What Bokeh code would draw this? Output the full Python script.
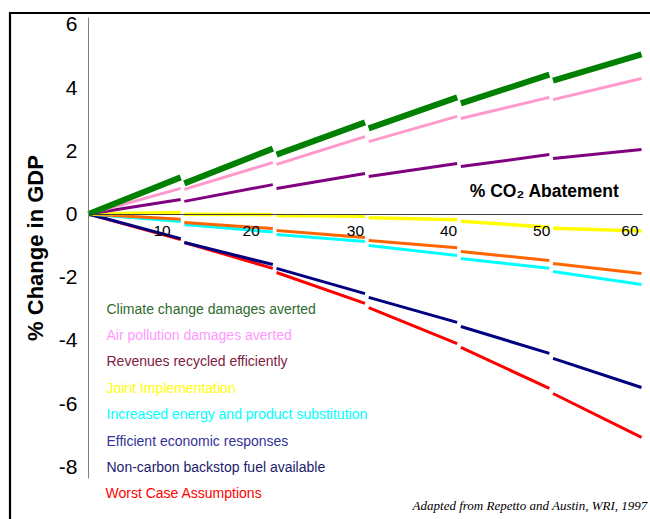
from bokeh.plotting import figure
from bokeh.models import Range1d, FixedTicker, ColumnDataSource
from bokeh.core.properties import value
from bokeh.embed import file_html
from bokeh.resources import INLINE

# ---------------- data ----------------
abatement = [0, 10, 20, 30, 40, 50, 60]          # % CO2 abatement (segment breakpoints)
x_tick_labels = ["10", "20", "30", "40", "50", "60"]
y_ticks = [-8, -6, -4, -2, 0, 2, 4, 6]

series_labels = [
    "Climate change damages averted",
    "Air pollution damages averted",
    "Revenues recycled efficiently",
    "Joint Implementation",
    "Increased energy and product substitution",
    "Efficient economic responses",
    "Non-carbon backstop fuel available",
    "Worst Case Assumptions",
]

# value at the start and at the end of each 10-point segment (% change in GDP)
climate_start = [0, 0.97, 1.88, 2.71, 3.50, 4.22]
climate_end = [1.16, 2.07, 2.90, 3.69, 4.41, 5.05]
airpol_start = [0, 0.78, 1.57, 2.29, 3.02, 3.62]
airpol_end = [0.81, 1.63, 2.45, 3.09, 3.69, 4.29]
revenue_start = [0, 0.40, 0.81, 1.19, 1.50, 1.76]
revenue_end = [0.46, 0.93, 1.28, 1.60, 1.88, 2.04]
joint_start = [0, -0.01, -0.05, -0.12, -0.23, -0.45]
joint_end = [0.05, -0.02, -0.07, -0.18, -0.42, -0.54]
efficient_start = [0, -0.27, -0.52, -0.84, -1.19, -1.57]
efficient_end = [-0.17, -0.46, -0.74, -1.07, -1.47, -1.88]
substitution_start = [0, -0.33, -0.65, -1.00, -1.41, -1.82]
substitution_end = [-0.24, -0.57, -0.87, -1.31, -1.72, -2.23]
backstop_start = [0, -0.90, -1.72, -2.64, -3.56, -4.57]
backstop_end = [-0.78, -1.60, -2.52, -3.43, -4.41, -5.49]
worst_start = [0, -0.90, -1.85, -2.96, -4.22, -5.68]
worst_end = [-0.81, -1.72, -2.83, -4.10, -5.52, -7.07]

# ---------------- layout / style ----------------
W, H = 650, 519
X0_PX, X_PER = 88.0, (641.0 - 88.0) / 60.0   # x=0 at 88px, x=60 at 641px
Y0_PX, Y_PER = 213.5, 31.6                    # y=0 at 213.5px from top

x_lo = -X0_PX / X_PER
x_hi = (W - X0_PX) / X_PER
y_hi = Y0_PX / Y_PER
y_lo = -(H - Y0_PX) / Y_PER


def px_to_y(py):
    return (Y0_PX - py) / Y_PER


def px_to_x(px):
    return (px - X0_PX) / X_PER


SANS = "Liberation Sans"
GAP = 0.4

p = figure(width=W, height=H, x_range=Range1d(x_lo, x_hi), y_range=Range1d(y_lo, y_hi),
           output_backend="svg", toolbar_location=None, min_border=0,
           x_axis_location="below", y_axis_location="left")
p.xgrid.visible = False
p.ygrid.visible = False
p.outline_line_color = None
p.background_fill_color = "white"
p.border_fill_color = "white"

# y axis crossing at x = 0
yax = p.yaxis[0]
yax.fixed_location = 0
yax.bounds = (px_to_y(478), px_to_y(17))
yax.ticker = FixedTicker(ticks=y_ticks)
yax.major_label_overrides = {t: str(t) for t in y_ticks}
yax.major_tick_line_color = None
yax.minor_tick_line_color = None
yax.major_tick_out = 0
yax.major_tick_in = 0
yax.major_label_standoff = 11
yax.major_label_text_font = SANS
yax.major_label_text_font_size = "21px"
yax.major_label_text_color = "black"
yax.axis_line_color = "#808080"
yax.axis_line_width = 1
yax.axis_label = "% Change in GDP"
yax.axis_label_text_font = SANS
yax.axis_label_text_font_style = "bold"
yax.axis_label_text_font_size = "22px"
yax.axis_label_text_color = "black"
yax.axis_label_standoff = 8

# x axis crossing at y = 0
xax = p.xaxis[0]
xax.fixed_location = 0
xax.bounds = (0, abatement[-1] + 0.1)
xax.ticker = FixedTicker(ticks=[])
xax.major_tick_line_color = None
xax.minor_tick_line_color = None
xax.axis_line_color = "#404040"
xax.axis_line_width = 1

# slide frame (left and top edges)
p.line(x=[px_to_x(9.5), px_to_x(9.5), px_to_x(W)],
       y=[px_to_y(H), px_to_y(12.5), px_to_y(12.5)],
       line_color="black", line_width=2.2, line_join="miter")

# ---------------- lines ----------------
series = [
    (worst_start, worst_end, "#FF0000", 3),
    (backstop_start, backstop_end, "#000080", 3),
    (substitution_start, substitution_end, "#00FFFF", 3),
    (efficient_start, efficient_end, "#FF6600", 3),
    (joint_start, joint_end, "#FFFF00", 3.5),
    (revenue_start, revenue_end, "#800080", 3),
    (airpol_start, airpol_end, "#FF99CC", 3),
    (climate_start, climate_end, "#008000", 6),
]
for starts, ends, color, lw in series:
    xs, ys = [], []
    for i in range(len(ends)):
        xs.append([abatement[i] + (GAP if i > 0 else 0), abatement[i + 1]])
        ys.append([starts[i], ends[i]])
    p.multi_line(xs=xs, ys=ys, line_color=color, line_width=lw, line_cap="butt")

# x tick labels just below the zero line
nudge = [-10, -13, -1, 0, 1, -3]
xsrc = ColumnDataSource(dict(x=abatement[1:], y=[0] * 6, t=x_tick_labels, dx=nudge))
p.text(x="x", y="y", text="t", x_offset="dx", y_offset=17, source=xsrc,
       text_align="right", text_baseline="middle", text_font=value(SANS),
       text_font_size="15.5px", text_color="black")

# x axis title
p.text(x=[px_to_x(619)], y=[px_to_y(190)], text=["% CO\u2082 Abatement"],
       text_align="right", text_baseline="middle", text_font=value(SANS),
       text_font_style="bold", text_font_size="17.5px", text_color="black")

# legend as coloured text
legend_colors = ["#2E6B2E", "#FF99FF", "#802040", "#FFFF00", "#00FFFF", "#333399", "#1B1B6B", "#FF0000"]
leg_x = [px_to_x(106)] * 8
leg_x[-1] = px_to_x(105)
leg_y = [px_to_y(308 + 26.4 * i) for i in range(8)]
p.text(x=leg_x, y=leg_y, text=series_labels, text_color=legend_colors,
       text_align="left", text_baseline="middle", text_font=value(SANS),
       text_font_size="14px")

# source note
p.text(x=[px_to_x(647)], y=[px_to_y(505)], text=["Adapted from Repetto and Austin, WRI, 1997"],
       text_align="right", text_baseline="middle", text_font=value("Liberation Serif"),
       text_font_style="italic", text_font_size="13px", text_color="black")

open("out.html", "w").write(file_html(p, INLINE))
